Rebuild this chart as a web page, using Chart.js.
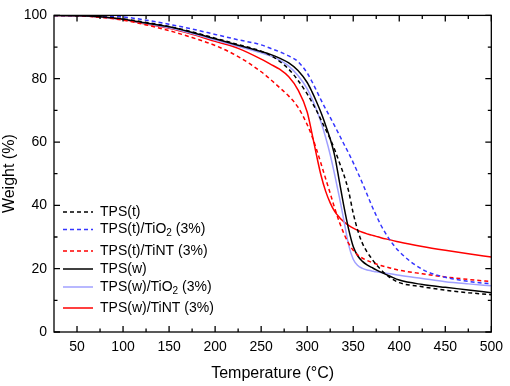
<!DOCTYPE html>
<html>
<head>
<meta charset="utf-8">
<script src="https://cdn.jsdelivr.net/npm/chart.js@4/dist/chart.umd.min.js"></script>
<style>
  html, body { margin: 0; padding: 0; background: #fff; }
  #wrap { width: 510px; height: 386px; position: relative; }
</style>
</head>
<body>
<div id="wrap"><canvas id="tga"></canvas></div>
<script>
const temps = [25, 50, 75, 100, 125, 150, 175, 200, 225, 250, 260, 270, 280, 290, 300, 305, 310, 315, 320, 325, 330, 335, 340, 345, 350, 355, 360, 365, 370, 375, 380, 390, 400, 425, 450, 475, 500];

const tpsT      = [100, 99.9, 99.6, 98.9, 97.8, 96.5, 94.8, 92.8, 90.8, 88.7, 87.4, 85.5, 83, 79.5, 75.2, 72.7, 70, 67, 64, 61, 57.5, 53.5, 49.5, 44.5, 37.5, 32, 28, 25.3, 23.2, 21.3, 19.7, 17.2, 15.6, 14.3, 13.2, 12.4, 11.8];
const tpsTTiO2  = [100, 100, 99.8, 99.5, 98.5, 97.2, 95.7, 94, 92.3, 90.7, 89.6, 88.5, 87.2, 85.4, 81.8, 79.2, 76.3, 73.3, 70.5, 67.8, 65, 62.2, 59.3, 56.5, 53.5, 50.3, 47, 43.5, 40, 36.8, 33.8, 29, 25.4, 19.8, 17.3, 16, 15.2];
const tpsTTiNT  = [100, 99.9, 99.4, 98.5, 97, 95.2, 93, 90.5, 87, 82.2, 79.8, 77.2, 74.5, 71, 65.5, 62, 57.8, 53.2, 48.5, 43.8, 39, 34.7, 31, 28, 25.8, 24.3, 23.3, 22.6, 22, 21.5, 21, 20.2, 19.5, 18.4, 17.4, 16.6, 15.9];
const tpsW      = [100, 99.9, 99.6, 98.8, 97.6, 96.4, 94.6, 92.6, 90.6, 88.6, 87.7, 86.5, 85, 82.6, 78.8, 76, 72.8, 69.3, 65.3, 61, 55.5, 47.5, 39.5, 32.5, 27, 24, 22.3, 21.2, 20.4, 19.6, 18.9, 17.6, 16.4, 15, 14.1, 13.3, 12.4];
const tpsWTiO2  = [100, 99.9, 99.5, 98.7, 97.4, 96.1, 94.3, 92.2, 90.2, 88.2, 87.2, 85.9, 84, 81, 76.8, 73.8, 70.3, 66.3, 61.5, 56, 49.5, 42.5, 35, 27.5, 23, 21, 20.1, 19.6, 19.3, 19, 18.8, 18.4, 17.9, 16.9, 15.9, 15.2, 14.6];
const tpsWTiNT  = [100, 99.9, 99.5, 98.7, 97.3, 95.9, 94, 91.8, 89.6, 86.2, 84.6, 83, 80.6, 76.5, 69.5, 63, 56, 49.5, 44.5, 40.8, 38, 36.2, 34.8, 33.7, 32.8, 32.1, 31.5, 31, 30.6, 30.2, 29.8, 29.1, 28.4, 27, 25.8, 24.7, 23.7];

const xMajor = [50, 100, 150, 200, 250, 300, 350, 400, 450, 500];
const xMinor = [75, 125, 175, 225, 275, 325, 375, 425, 475];
const yMajor = [0, 20, 40, 60, 80, 100];
const yMinor = [10, 30, 50, 70, 90];

const FONT = '"Liberation Sans", Arial, sans-serif';
const BLACK = '#000000', BLUE = '#3535ff', LBLUE = '#a0a0ff', RED = '#ff0000';
const DASH = [4, 3];

const series = [
  { label: 'TPS(t)', sub: null, tail: '', data: tpsT, color: BLACK, dash: DASH },
  { label: 'TPS(t)/TiO', sub: '2', tail: ' (3%)', data: tpsTTiO2, color: BLUE, dash: DASH },
  { label: 'TPS(t)/TiNT (3%)', sub: null, tail: '', data: tpsTTiNT, color: RED, dash: DASH },
  { label: 'TPS(w)', sub: null, tail: '', data: tpsW, color: BLACK, dash: [] },
  { label: 'TPS(w)/TiO', sub: '2', tail: ' (3%)', data: tpsWTiO2, color: LBLUE, dash: [] },
  { label: 'TPS(w)/TiNT (3%)', sub: null, tail: '', data: tpsWTiNT, color: RED, dash: [] },
];
const legendRows = [212, 229.5, 251, 269, 287, 308];

const frame = {
  id: 'frame',
  afterDraw(chart) {
    const { ctx, chartArea: a, scales: { x, y } } = chart;
    ctx.save();
    ctx.strokeStyle = '#000';
    ctx.lineWidth = 1.3;
    ctx.strokeRect(a.left, a.top, a.right - a.left, a.bottom - a.top);
    const tick = (v, len, horiz) => {
      ctx.beginPath();
      if (horiz) {
        const px = x.getPixelForValue(v);
        ctx.moveTo(px, a.bottom); ctx.lineTo(px, a.bottom - len);
        ctx.moveTo(px, a.top); ctx.lineTo(px, a.top + len);
      } else {
        const py = y.getPixelForValue(v);
        ctx.moveTo(a.left, py); ctx.lineTo(a.left + len, py);
        ctx.moveTo(a.right, py); ctx.lineTo(a.right - len, py);
      }
      ctx.stroke();
    };
    xMajor.forEach(v => tick(v, 6, true));
    xMinor.forEach(v => tick(v, 3.5, true));
    yMajor.forEach(v => tick(v, 6, false));
    yMinor.forEach(v => tick(v, 3.5, false));

    // legend
    ctx.textBaseline = 'middle';
    series.forEach((s, i) => {
      const ly = legendRows[i];
      ctx.strokeStyle = s.color;
      ctx.lineWidth = 1.5;
      ctx.setLineDash(s.dash);
      ctx.beginPath(); ctx.moveTo(63, ly); ctx.lineTo(93, ly); ctx.stroke();
      ctx.setLineDash([]);
      ctx.fillStyle = '#000';
      ctx.font = '14px ' + FONT;
      let tx = 100;
      ctx.fillText(s.label, tx, ly);
      if (s.sub) {
        tx += ctx.measureText(s.label).width;
        ctx.font = '10px ' + FONT;
        ctx.fillText(s.sub, tx, ly + 4);
        tx += ctx.measureText(s.sub).width;
        ctx.font = '14px ' + FONT;
        ctx.fillText(s.tail, tx, ly);
      }
    });
    ctx.restore();
  }
};

new Chart(document.getElementById('tga'), {
  type: 'line',
  data: {
    datasets: series.map(s => ({
      label: s.label,
      data: temps.map((t, i) => ({ x: t, y: s.data[i] })),
      borderColor: s.color,
      borderDash: s.dash,
      borderWidth: 1.5,
      pointRadius: 0,
      fill: false,
      cubicInterpolationMode: 'monotone',
    })),
  },
  options: {
    responsive: true,
    maintainAspectRatio: false,
    animation: false,
    layout: { padding: { top: 10, right: 17, left: 0, bottom: 0 } },
    plugins: { legend: { display: false }, tooltip: { enabled: false } },
    scales: {
      x: {
        type: 'linear', min: 25, max: 500,
        afterBuildTicks: s => { s.ticks = xMajor.map(v => ({ value: v })); },
        afterFit: s => { s.height = 54; },
        grid: { display: false, drawTicks: false },
        border: { display: false },
        ticks: { color: '#000', padding: 7, maxRotation: 0, font: { family: FONT, size: 14 } },
        title: { display: true, text: 'Temperature (°C)', color: '#000', padding: { top: 0, bottom: 3 }, font: { family: FONT, size: 16 } },
      },
      y: {
        min: 0, max: 100,
        afterBuildTicks: s => { s.ticks = yMajor.map(v => ({ value: v })); },
        afterFit: s => { s.width = 54; },
        grid: { display: false, drawTicks: false },
        border: { display: false },
        ticks: { color: '#000', padding: 7, font: { family: FONT, size: 14 } },
        title: { display: true, text: 'Weight (%)', color: '#000', padding: { top: 0, bottom: 0 }, font: { family: FONT, size: 16 } },
      },
    },
  },
  plugins: [frame],
});
</script>
</body>
</html>
